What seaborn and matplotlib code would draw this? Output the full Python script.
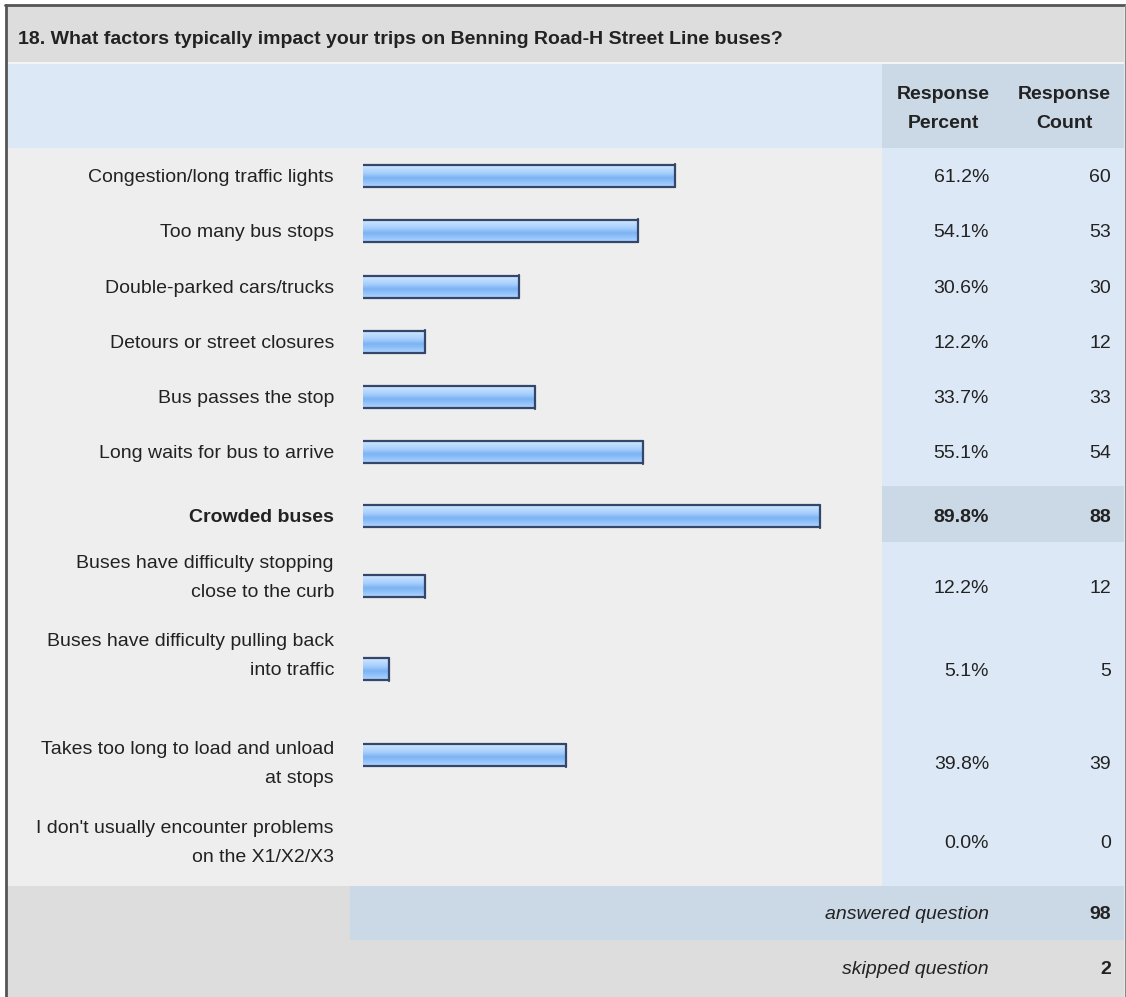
import numpy as np
import matplotlib
matplotlib.use("Agg")
import matplotlib.pyplot as plt
import matplotlib.patches as mpatches
from matplotlib.colors import LinearSegmentedColormap
import seaborn as sns

# survey data
question = "18. What factors typically impact your trips on Benning Road-H Street Line buses?"
answer_options = [
    "Congestion/long traffic lights",
    "Too many bus stops",
    "Double-parked cars/trucks",
    "Detours or street closures",
    "Bus passes the stop",
    "Long waits for bus to arrive",
    "Crowded buses",
    "Buses have difficulty stopping\nclose to the curb",
    "Buses have difficulty pulling back\ninto traffic",
    "Takes too long to load and unload\nat stops",
    "I don't usually encounter problems\non the X1/X2/X3",
]
response_pct = [61.2, 54.1, 30.6, 12.2, 33.7, 55.1, 89.8, 12.2, 5.1, 39.8, 0.0]
response_count = [60, 53, 30, 12, 33, 54, 88, 12, 5, 39, 0]
answered_question = 98
skipped_question = 2
top_option = "Crowded buses"

# layout (pixels)
W, H = 1126, 997
label_y = [177, 232, 288, 343, 398, 453, 517, 578, 656, 764, 843]
num_y = [177, 232, 288, 343, 398, 453, 517, 588, 671, 764, 843]
bar_y = [176, 231, 287, 342, 397, 452, 516, 586, 669, 755, 842]
bar_x0, bar_x100 = 363, 872
bar_h = 23
col_split = 882
label_right, pct_right, cnt_right = 334, 989, 1111
FS = 14
LS = 1.86

TXT = "#222222"
FONT = ["Liberation Sans", "DejaVu Sans"]
sns.set_theme(style="white")
plt.rcParams["font.family"] = FONT

fig = plt.figure(figsize=(W / 100, H / 100), dpi=100)
fig.patch.set_facecolor("white")
bg = fig.add_axes([0, 0, 1, 1])
bg.set_xlim(0, W)
bg.set_ylim(H, 0)
bg.axis("off")


def rect(x0, y0, x1, y1, color):
    bg.add_patch(mpatches.Rectangle((x0, y0), x1 - x0, y1 - y0, facecolor=color,
                                    edgecolor="none"))


L, R = 6, 1124
# title band
rect(L, 6, R, 62, "#dddddd")
rect(L, 62, R, 64, "#f4f4f4")
# header row
rect(L, 64, col_split, 148, "#dce8f5")
rect(col_split, 64, R, 148, "#cbd8e6")
# body
rect(L, 148, col_split, 886, "#eeeeee")
rect(col_split, 148, R, 886, "#dce8f5")
# highlighted (largest) row
rect(col_split, 486, R, 542, "#cbd8e6")
# footer
rect(L, 886, R, H, "#dddddd")
rect(350, 886, R, 940, "#cbd8e6")
# outer frame
bg.plot([5.5, 5.5], [5, H], color="#555555", lw=2)
bg.plot([5, R + 1], [5.5, 5.5], color="#555555", lw=2)
bg.plot([R + 0.5, R + 0.5], [5, H], color="#888888", lw=1)

bg.text(18, 40, question, fontsize=FS, fontweight="bold", color=TXT,
        ha="left", va="center")
bg.text(943, 109, "Response\nPercent", fontsize=FS, fontweight="bold", color=TXT,
        ha="center", va="center", linespacing=LS)
bg.text(1064, 109, "Response\nCount", fontsize=FS, fontweight="bold", color=TXT,
        ha="center", va="center", linespacing=LS)

for lab, ly, ny, p, c in zip(answer_options, label_y, num_y, response_pct, response_count):
    w = "bold" if lab == top_option else "normal"
    bg.text(label_right, ly, lab, fontsize=FS, fontweight=w, color=TXT, ha="right",
            va="center", linespacing=LS)
    bg.text(pct_right, ny, f"{p:.1f}%", fontsize=FS, fontweight=w, color=TXT,
            ha="right", va="center")
    bg.text(cnt_right, ny, f"{c}", fontsize=FS, fontweight=w, color=TXT,
            ha="right", va="center")

bg.text(pct_right, 914, "answered question", fontsize=FS, fontstyle="italic",
        color=TXT, ha="right", va="center")
bg.text(cnt_right, 914, f"{answered_question}", fontsize=FS, fontweight="bold",
        color=TXT, ha="right", va="center")
bg.text(pct_right, 969, "skipped question", fontsize=FS, fontstyle="italic",
        color=TXT, ha="right", va="center")
bg.text(cnt_right, 969, f"{skipped_question}", fontsize=FS, fontweight="bold",
        color=TXT, ha="right", va="center")

# bars
bx = fig.add_axes([bar_x0 / W, 0, (bar_x100 - bar_x0) / W, 1])
bx.patch.set_alpha(0)
min_gap = np.min(np.diff(bar_y))
sns.barplot(x=response_pct, y=bar_y, orient="h", native_scale=True,
            width=bar_h / min_gap, color="#9cc8f8", edgecolor="none",
            errorbar=None, ax=bx)

grad = LinearSegmentedColormap.from_list(
    "bar", ["#d6ebff", "#bcdcff", "#a6cefd", "#7db3f3", "#92c3fb", "#b4d6fd"])
g = np.linspace(0, 1, 64).reshape(-1, 1)
for patch in bx.patches:
    x0, y0 = patch.get_x(), patch.get_y()
    pw, ph = patch.get_width(), patch.get_height()
    if pw <= 0:
        continue
    top, bot = min(y0, y0 + ph), max(y0, y0 + ph)
    im = bx.imshow(g, cmap=grad, aspect="auto", extent=(x0, x0 + pw, bot, top),
                   origin="upper", interpolation="bilinear", zorder=3)
    im.set_clip_path(patch)
    bx.plot([x0, x0 + pw], [top + 0.8, top + 0.8], color="#34466a", lw=1.6, zorder=4)
    bx.plot([x0, x0 + pw], [bot - 0.8, bot - 0.8], color="#34466a", lw=1.6, zorder=4)
    bx.plot([x0 + pw, x0 + pw], [top, bot], color="#34466a", lw=1.6, zorder=4)

bx.set_xlim(0, 100)
bx.set_ylim(H, 0)
bx.axis("off")

fig.savefig("out.png", dpi=100)
